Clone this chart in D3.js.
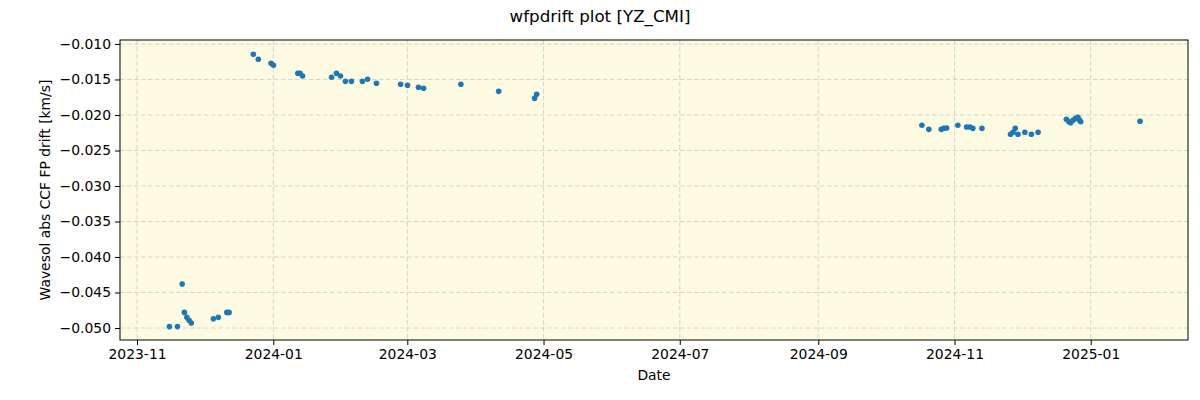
<!DOCTYPE html>
<html><head><meta charset="utf-8">
<script src="https://cdn.jsdelivr.net/npm/d3@7"></script>
<style>body{margin:0;background:#fff}svg{display:block;font-family:"DejaVu Sans",sans-serif}</style>
</head><body><svg id="c" width="1200" height="400"></svg>
<script>
const dates = [
"2023-11-15 12:00","2023-11-19 02:00","2023-11-21 05:00","2023-11-22 05:00","2023-11-23 07:00","2023-11-24 07:00","2023-11-25 07:00","2023-12-05 05:00","2023-12-07 10:00","2023-12-11 05:00","2023-12-12 05:00",
"2023-12-23 02:00","2023-12-25 07:00","2023-12-31 00:00","2024-01-01 02:00","2024-01-12 00:00","2024-01-13 00:00","2024-01-14 02:00","2024-01-27 02:00","2024-01-29 07:00","2024-01-31 02:00","2024-02-02 07:00","2024-02-05 00:00","2024-02-09 22:00","2024-02-12 05:00","2024-02-16 05:00","2024-02-27 00:00","2024-03-01 02:00","2024-03-06 00:00","2024-03-08 07:00","2024-03-25 00:00","2024-04-10 22:00","2024-04-27 00:00","2024-04-27 22:00",
"2024-10-17 10:00","2024-10-20 12:00","2024-10-26 02:00","2024-10-27 05:00","2024-10-28 12:00","2024-11-02 12:00","2024-11-06 10:00","2024-11-07 22:00","2024-11-09 05:00","2024-11-13 07:00","2024-11-26 02:00","2024-11-27 05:00","2024-11-28 05:00","2024-11-29 10:00","2024-12-02 12:00","2024-12-05 10:00","2024-12-08 10:00","2024-12-21 02:00","2024-12-22 05:00","2024-12-23 00:00","2024-12-24 05:00","2024-12-25 05:00","2024-12-26 07:00","2024-12-26 22:00","2024-12-27 12:00","2025-01-23 02:00"];
const drift = [
-0.0498,-0.0498,-0.0438,-0.0478,-0.0485,-0.0489,-0.0493,-0.0487,-0.0485,-0.0478,-0.0478,
-0.01145,-0.01216,-0.01272,-0.0130,-0.01413,-0.01413,-0.01451,-0.01469,-0.01413,-0.01451,-0.01526,-0.01526,-0.01526,-0.01497,-0.01554,-0.01568,-0.01582,-0.01610,-0.01624,-0.01568,-0.01667,-0.01765,-0.01708,
-0.02145,-0.02202,-0.02202,-0.02188,-0.02183,-0.02145,-0.02169,-0.02169,-0.02188,-0.02188,-0.02272,-0.02244,-0.02188,-0.02272,-0.02244,-0.02272,-0.02244,-0.02061,-0.02094,-0.02108,-0.02070,-0.02047,-0.02032,-0.02070,-0.02094,-0.02089];
const xTicks = ["2023-11-01","2024-01-01","2024-03-01","2024-05-01","2024-07-01","2024-09-01","2024-11-01","2025-01-01"];
const yTicks = [-0.050,-0.045,-0.040,-0.035,-0.030,-0.025,-0.020,-0.015,-0.010];
const xDomain = ["2023-10-24 09:00","2025-02-13 13:00"];
const yDomain = [-0.05169,-0.00944];
const title = "wfpdrift plot [YZ_CMI]";
const xLabel = "Date";
const yLabel = "Wavesol abs CCF FP drift [km/s]";

const parse = d3.utcParse("%Y-%m-%d %H:%M");
const parseD = d3.utcParse("%Y-%m-%d");
const data = dates.map((d,i)=>({t:parse(d), v:drift[i]}));
const L=120,R=1188,T=40,B=340;
const svg = d3.select("#c");
const x = d3.scaleUtc().domain(xDomain.map(parse)).range([L,R]);
const y = d3.scaleLinear().domain(yDomain).range([B,T]);

svg.append("rect").attr("x",L).attr("y",T).attr("width",R-L).attr("height",B-T).attr("fill","#fdfbe2");
const g = svg.append("g");
xTicks.forEach(s=>{const px=x(parseD(s)); g.append("line").attr("x1",px).attr("x2",px).attr("y1",T).attr("y2",B).attr("stroke","#cfcfcf").attr("stroke-dasharray","4.5,2.5").attr("stroke-width",0.9);});
yTicks.forEach(v=>{const py=y(v); g.append("line").attr("x1",L).attr("x2",R).attr("y1",py).attr("y2",py).attr("stroke","#cfcfcf").attr("stroke-dasharray","4.5,2.5").attr("stroke-width",0.9);});

svg.append("g").selectAll("circle").data(data).join("circle")
  .attr("cx",d=>x(d.t)).attr("cy",d=>y(d.v)).attr("r",2.8).attr("fill","#1f77b4");

svg.append("rect").attr("x",L).attr("y",T).attr("width",R-L).attr("height",B-T).attr("fill","none").attr("stroke","#000").attr("stroke-width",1);

const fmtY = v=>d3.format(".3f")(v).replace("-","\u2212");
const xa = svg.append("g").attr("transform",`translate(0,${B})`)
  .call(d3.axisBottom(x).tickValues(xTicks.map(parseD)).tickFormat(d3.utcFormat("%Y-%m")).tickSize(5).tickPadding(4));
const ya = svg.append("g").attr("transform",`translate(${L},0)`)
  .call(d3.axisLeft(y).tickValues(yTicks).tickFormat(fmtY).tickSize(5).tickPadding(4));
[xa,ya].forEach(a=>{a.select(".domain").remove(); a.selectAll("text").attr("font-size","13.9px").attr("fill","#000").attr("font-family","DejaVu Sans"); a.selectAll("line").attr("stroke","#000");});

svg.append("text").attr("x",600).attr("y",22).attr("text-anchor","middle").attr("font-size","16.7px").text(title);
svg.append("text").attr("x",(L+R)/2).attr("y",380).attr("text-anchor","middle").attr("font-size","13.9px").text(xLabel);
svg.append("text").attr("transform",`translate(50,${(T+B)/2}) rotate(-90)`).attr("text-anchor","middle").attr("font-size","13.9px").text(yLabel);
</script></body></html>
